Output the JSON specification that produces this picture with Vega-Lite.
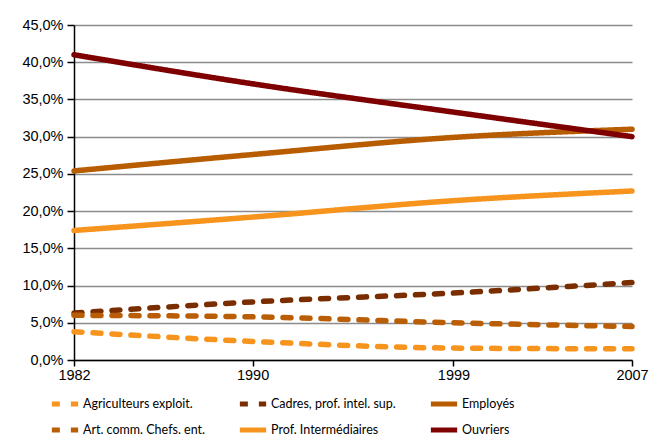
{
  "$schema": "https://vega.github.io/schema/vega-lite/v6.json",
  "width": 558,
  "height": 335,
  "autosize": {"type": "none"},
  "padding": {"left": 74, "top": 25, "right": 22, "bottom": 81},
  "background": "white",
  "config": {"view": {"stroke": null}, "font": "Liberation Sans"},
  "data": {"values": [
    {"annee": 1982, "cat": "Agriculteurs exploit.", "v": 3.8},
    {"annee": 1990, "cat": "Agriculteurs exploit.", "v": 2.5},
    {"annee": 1999, "cat": "Agriculteurs exploit.", "v": 1.6},
    {"annee": 2007, "cat": "Agriculteurs exploit.", "v": 1.5},
    {"annee": 1982, "cat": "Cadres, prof. intel. sup.", "v": 6.3},
    {"annee": 1990, "cat": "Cadres, prof. intel. sup.", "v": 7.8},
    {"annee": 1999, "cat": "Cadres, prof. intel. sup.", "v": 9.0},
    {"annee": 2007, "cat": "Cadres, prof. intel. sup.", "v": 10.4},
    {"annee": 1982, "cat": "Employés", "v": 25.4},
    {"annee": 1990, "cat": "Employés", "v": 27.6},
    {"annee": 1999, "cat": "Employés", "v": 29.9},
    {"annee": 2007, "cat": "Employés", "v": 31.0},
    {"annee": 1982, "cat": "Art. comm. Chefs. ent.", "v": 6.0},
    {"annee": 1990, "cat": "Art. comm. Chefs. ent.", "v": 5.8},
    {"annee": 1999, "cat": "Art. comm. Chefs. ent.", "v": 5.0},
    {"annee": 2007, "cat": "Art. comm. Chefs. ent.", "v": 4.5},
    {"annee": 1982, "cat": "Prof. Intermédiaires", "v": 17.4},
    {"annee": 1990, "cat": "Prof. Intermédiaires", "v": 19.2},
    {"annee": 1999, "cat": "Prof. Intermédiaires", "v": 21.4},
    {"annee": 2007, "cat": "Prof. Intermédiaires", "v": 22.7},
    {"annee": 1982, "cat": "Ouvriers", "v": 41.0},
    {"annee": 1990, "cat": "Ouvriers", "v": 37.1},
    {"annee": 1999, "cat": "Ouvriers", "v": 33.3},
    {"annee": 2007, "cat": "Ouvriers", "v": 30.0}
  ]},
  "mark": {"type": "line", "interpolate": "monotone", "strokeWidth": 5.5, "strokeCap": "round", "strokeJoin": "round"},
  "encoding": {
    "x": {
      "field": "annee", "type": "quantitative",
      "scale": {"domain": [1982, 2007], "nice": false, "zero": false},
      "axis": {"values": [1982, 1990, 1999, 2007], "format": "d", "grid": false, "title": null,
        "domainColor": "black", "domainWidth": 1.5, "tickColor": "black", "tickSize": 6, "tickWidth": 1.5,
        "labelFont": "Liberation Sans", "labelFontSize": 14.5, "labelColor": "black", "labelPadding": 2,
        "labelFlush": false}
    },
    "y": {
      "field": "v", "type": "quantitative",
      "scale": {"domain": [0, 45], "nice": false},
      "axis": {"values": [0, 5, 10, 15, 20, 25, 30, 35, 40, 45], "title": null,
        "labelExpr": "replace(format(datum.value, '.1f'), '.', ',') + '%'",
        "grid": true, "gridColor": "#8c8c8c", "gridWidth": 1.5,
        "domainColor": "black", "domainWidth": 1.5, "tickColor": "black", "tickSize": 7, "tickWidth": 1.5,
        "labelFont": "Liberation Sans", "labelFontSize": 14.5, "labelColor": "black", "labelPadding": 4}
    },
    "color": {
      "field": "cat", "type": "nominal",
      "sort": ["Agriculteurs exploit.", "Cadres, prof. intel. sup.", "Employés", "Art. comm. Chefs. ent.", "Prof. Intermédiaires", "Ouvriers"],
      "scale": {
        "domain": ["Agriculteurs exploit.", "Cadres, prof. intel. sup.", "Employés", "Art. comm. Chefs. ent.", "Prof. Intermédiaires", "Ouvriers"],
        "range": ["#F7941D", "#7A2E00", "#B85C00", "#BA5E05", "#F7941D", "#7F0000"]
      },
      "legend": {
        "title": null, "orient": "none", "legendX": -25, "legendY": 363, "direction": "horizontal",
        "columns": 3, "columnPadding": 24, "rowPadding": 0,
        "symbolType": "stroke", "symbolSize": 690, "symbolStrokeWidth": 5,
        "labelFont": "Lato", "labelFontSize": 12.5, "labelColor": "black", "labelOffset": 2, "labelLimit": 300
      }
    },
    "strokeDash": {
      "field": "cat", "type": "nominal",
      "scale": {
        "domain": ["Agriculteurs exploit.", "Cadres, prof. intel. sup.", "Employés", "Art. comm. Chefs. ent.", "Prof. Intermédiaires", "Ouvriers"],
        "range": [[8, 11], [8, 11], [1, 0], [8, 11], [1, 0], [1, 0]]
      },
      "legend": null
    },
    "order": {"field": "annee"}
  }
}
